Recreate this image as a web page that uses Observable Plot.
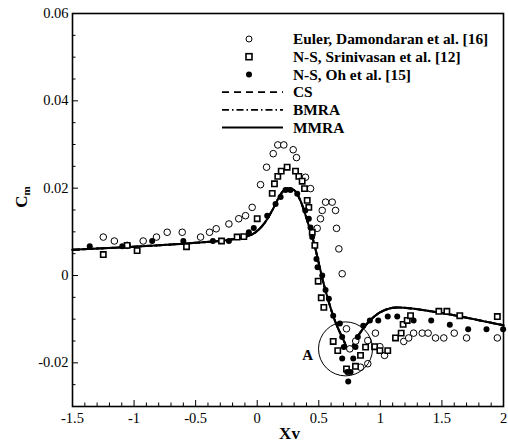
<!DOCTYPE html>
<html>
<head>
<meta charset="utf-8">
<script src="https://cdn.jsdelivr.net/npm/d3@7"></script>
<script src="https://cdn.jsdelivr.net/npm/@observablehq/plot@0.6"></script>
<style>
  html, body { margin: 0; padding: 0; background: #fff; }
  #chart { width: 508px; height: 444px; }
</style>
</head>
<body>
<div id="chart"></div>
<script>
// ---- Data ----
const eulerX = [-1.25, -1.16, -1.056, -0.926, -0.818, -0.731, -0.609, -0.46, -0.387, -0.333, -0.23, -0.15, -0.095, -0.041, 0.027, 0.076, 0.13, 0.167, 0.216, 0.292, 0.319, 0.392, 0.433, 0.487, 0.514, 0.528, 0.555, 0.609, 0.636, 0.644, 0.663, 0.69, 0.725, 0.752, 0.80, 0.839, 0.898, 0.898, 0.96, 0.996, 1.034, 1.19, 1.23, 1.27, 1.34, 1.388, 1.448, 1.515, 1.60, 1.70, 1.95];
const eulerY = [0.0088, 0.0079, 0.0069, 0.0079, 0.0088, 0.0099, 0.0099, 0.0088, 0.0099, 0.0107, 0.0118, 0.0130, 0.0137, 0.0156, 0.0208, 0.0248, 0.0279, 0.0299, 0.0299, 0.0288, 0.0270, 0.0225, 0.0199, 0.0108, 0.0130, 0.0149, 0.0168, 0.0168, 0.0149, 0.0108, 0.0061, 0.0004, -0.0122, -0.0168, -0.0150, -0.0210, -0.0202, -0.0149, -0.0132, -0.0163, -0.0183, -0.0151, -0.0143, -0.0132, -0.0132, -0.0132, -0.0143, -0.0143, -0.0132, -0.0143, -0.0143];

const srinX = [-1.25, -1.056, -0.975, -0.574, -0.29, -0.163, -0.109, 0.0, 0.122, 0.14, 0.167, 0.195, 0.243, 0.311, 0.338, 0.365, 0.384, 0.406, 0.419, 0.447, 0.468, 0.495, 0.52, 0.541, 0.617, 0.654, 0.725, 0.798, 0.839, 0.88, 0.953, 0.996, 1.06, 1.123, 1.169, 1.185, 1.218, 1.245, 1.475, 1.54, 1.645, 1.95];
const srinY = [0.0048, 0.0069, 0.0057, 0.0066, 0.0079, 0.0088, 0.0089, 0.0130, 0.0188, 0.0210, 0.0227, 0.0239, 0.0248, 0.0239, 0.0227, 0.0216, 0.0199, 0.0172, 0.0156, 0.0099, 0.0069, -0.0013, -0.0051, -0.0073, -0.0151, -0.0172, -0.0214, -0.0208, -0.0183, -0.0164, -0.0163, -0.0172, -0.0172, -0.0143, -0.0132, -0.0112, -0.0103, -0.0092, -0.0082, -0.0082, -0.0092, -0.0094];

const ohX = [-1.36, -1.096, -0.853, -0.60, -0.36, -0.23, -0.068, -0.028, 0.081, 0.149, 0.19, 0.23, 0.27, 0.325, 0.39, 0.419, 0.433, 0.446, 0.481, 0.49, 0.528, 0.555, 0.582, 0.617, 0.671, 0.69, 0.703, 0.69, 0.78, 0.731, 0.758, 0.739, 0.798, 0.817, 0.861, 0.915, 0.983, 1.06, 1.137, 1.27, 1.413, 1.564, 1.713, 1.862, 1.997];
const ohY = [0.0067, 0.0067, 0.0079, 0.0079, 0.0079, 0.0079, 0.0099, 0.0109, 0.0137, 0.0164, 0.0180, 0.0196, 0.0196, 0.0187, 0.0149, 0.0130, 0.0110, 0.0088, 0.0038, 0.0019, 0.0000, -0.0033, -0.0053, -0.0092, -0.0110, -0.0141, -0.0164, -0.0190, -0.0190, -0.0221, -0.0221, -0.0243, -0.0164, -0.0141, -0.0115, -0.0103, -0.0103, -0.0094, -0.0094, -0.0103, -0.0103, -0.0113, -0.0123, -0.0123, -0.0123];

const curveX = [-1.5, -1.0, -0.5, -0.2, -0.05, 0.0, 0.054, 0.135, 0.19, 0.243, 0.297, 0.35, 0.406, 0.46, 0.54, 0.62, 0.703, 0.744, 0.812, 0.893, 1.0, 1.137, 1.27, 1.41, 1.54, 1.81, 2.0];
const csY   = [0.0059, 0.0066, 0.0075, 0.0083, 0.0093, 0.0102, 0.0118, 0.0156, 0.0186, 0.0200, 0.0196, 0.0172, 0.0126, 0.0075, -0.0019, -0.0095, -0.0149, -0.0171, -0.0141, -0.0110, -0.0084, -0.0073, -0.0076, -0.0082, -0.0088, -0.0103, -0.0114];
const bmraY = [0.0059, 0.0066, 0.0075, 0.0083, 0.0093, 0.0102, 0.0118, 0.0156, 0.0186, 0.0200, 0.0196, 0.0172, 0.0126, 0.0075, -0.0019, -0.0095, -0.0149, -0.0172, -0.0141, -0.0110, -0.0084, -0.0073, -0.0076, -0.0082, -0.0088, -0.0103, -0.0114];
const mmraY = [0.0059, 0.0066, 0.0075, 0.0083, 0.0093, 0.0102, 0.0118, 0.0156, 0.0186, 0.0200, 0.0196, 0.0172, 0.0126, 0.0075, -0.0019, -0.0095, -0.0149, -0.0172, -0.0141, -0.0110, -0.0084, -0.0073, -0.0076, -0.0082, -0.0088, -0.0103, -0.0114];

const xMajor = [-1.5, -1, -0.5, 0, 0.5, 1, 1.5, 2];
const xMinor = d3.range(-14, 20).map(i => i / 10).filter(v => !xMajor.some(m => Math.abs(m - v) < 1e-9));
const yMajor = [-0.02, 0, 0.02, 0.04, 0.06];
const yMinor = [-0.03, -0.025, -0.015, -0.01, -0.005, 0.005, 0.01, 0.015, 0.025, 0.03, 0.035, 0.045, 0.05, 0.055];

const legendLabels = ["Euler, Damondaran et al. [16]", "N-S, Srinivasan et al. [12]", "N-S, Oh et al. [15]", "CS", "BMRA", "MMRA"];
const circleA = [{x: 0.717, y: -0.0168}];
const labelA = [{x: 0.41, y: -0.0183, t: "A"}];

// ---- Build tables ----
const euler = eulerX.map((x, i) => ({x, y: eulerY[i]}));
const srin = srinX.map((x, i) => ({x, y: srinY[i]}));
const oh = ohX.map((x, i) => ({x, y: ohY[i]}));
const cs = curveX.map((x, i) => ({x, y: csY[i]}));
const bmra = curveX.map((x, i) => ({x, y: bmraY[i]}));
const mmra = curveX.map((x, i) => ({x, y: mmraY[i]}));

const FONT = '"Liberation Serif", "Times New Roman", serif';
const W = 508, H = 444;
const M = {left: 72, right: 5, top: 13, bottom: 38};
const fw = W - M.left - M.right, fh = H - M.top - M.bottom;

const chart = Plot.plot({
  width: W, height: H,
  marginLeft: M.left, marginRight: M.right, marginTop: M.top, marginBottom: M.bottom,
  x: {domain: [-1.5, 2]},
  y: {domain: [-0.03, 0.06]},
  style: {fontFamily: FONT, fontSize: "14px", color: "#000", background: "#fff"},
  marks: [
    Plot.axisX(xMajor, {tickSize: 0, tickPadding: 6, tickFormat: d => String(d), label: null, fontSize: 14.5}),
    Plot.axisY(yMajor, {tickSize: 0, tickPadding: 4, tickFormat: d => String(d), label: null, fontSize: 14.5}),
    // inward ticks
    Plot.tickX(xMajor, {x: d => d, insetTop: fh - 6, stroke: "#000", strokeWidth: 1}),
    Plot.tickX(xMinor, {x: d => d, insetTop: fh - 3.5, stroke: "#000", strokeWidth: 1}),
    Plot.tickY(yMajor, {y: d => d, insetRight: fw - 6, stroke: "#000", strokeWidth: 1}),
    Plot.tickY(yMinor, {y: d => d, insetRight: fw - 3.5, stroke: "#000", strokeWidth: 1}),
    // curves
    Plot.line(cs, {x: "x", y: "y", stroke: "#000", strokeWidth: 2, strokeDasharray: "7,5", curve: "monotone-x"}),
    Plot.line(bmra, {x: "x", y: "y", stroke: "#000", strokeWidth: 2, strokeDasharray: "7,3,1.5,3", curve: "monotone-x"}),
    Plot.line(mmra, {x: "x", y: "y", stroke: "#000", strokeWidth: 2, curve: "monotone-x"}),
    // symbols
    Plot.dot(euler, {x: "x", y: "y", r: 3.3, stroke: "#000", fill: "#fff", strokeWidth: 1}),
    Plot.dot(srin, {x: "x", y: "y", symbol: "square", r: 3, stroke: "#000", fill: "#fff", strokeWidth: 1.6}),
    Plot.dot(oh, {x: "x", y: "y", r: 3, fill: "#000", stroke: "none"}),
    // annotation
    Plot.dot(circleA, {x: "x", y: "y", r: 27, stroke: "#000", fill: "none", strokeWidth: 1}),
    Plot.text(labelA, {x: "x", y: "y", text: "t", fontWeight: "bold", fontSize: 15, fill: "#000"}),
    Plot.frame({stroke: "#000", strokeWidth: 1.6})
  ]
});

document.getElementById("chart").appendChild(chart);

// ---- Axis titles and legend (added into the same SVG) ----
const svg = d3.select(chart);
svg.append("text")
  .attr("x", M.left + fw / 2 + 2).attr("y", 439)
  .attr("text-anchor", "middle").attr("font-weight", "bold").attr("font-size", 17)
  .attr("fill", "#000").text("Xv");

const yl = svg.append("text")
  .attr("transform", "translate(27,197) rotate(-90)")
  .attr("text-anchor", "middle").attr("font-weight", "bold").attr("font-size", 17).attr("fill", "#000");
yl.append("tspan").text("C");
yl.append("tspan").attr("font-size", 11).attr("dy", 3).text("m");

const lg = svg.append("g").attr("font-weight", "bold").attr("font-size", 15.4).attr("fill", "#000");
const rowY = i => 39 + i * 17.7;
const symX = 249, textX = 293, lineX1 = 222, lineX2 = 283;
legendLabels.forEach((lab, i) => {
  lg.append("text").attr("x", textX).attr("y", rowY(i)).attr("dy", "0.35em")
    .style("text-anchor", "start").text(lab);
});
lg.append("circle").attr("cx", symX).attr("cy", rowY(0)).attr("r", 3).attr("fill", "#fff").attr("stroke", "#000");
lg.append("rect").attr("x", symX - 3).attr("y", rowY(1) - 3).attr("width", 6).attr("height", 6).attr("fill", "#fff").attr("stroke", "#000").attr("stroke-width", 1.6);
lg.append("circle").attr("cx", symX).attr("cy", rowY(2)).attr("r", 3).attr("fill", "#000");
const dashes = ["7,5", "7,3,1.5,3", null];
dashes.forEach((d, j) => {
  const l = lg.append("line").attr("x1", lineX1).attr("x2", lineX2)
    .attr("y1", rowY(3 + j)).attr("y2", rowY(3 + j))
    .attr("stroke", "#000").attr("stroke-width", 1.8);
  if (d) l.attr("stroke-dasharray", d);
});

// force serif font on every text element
svg.selectAll("text").style("font-family", FONT);
</script>
</body>
</html>
